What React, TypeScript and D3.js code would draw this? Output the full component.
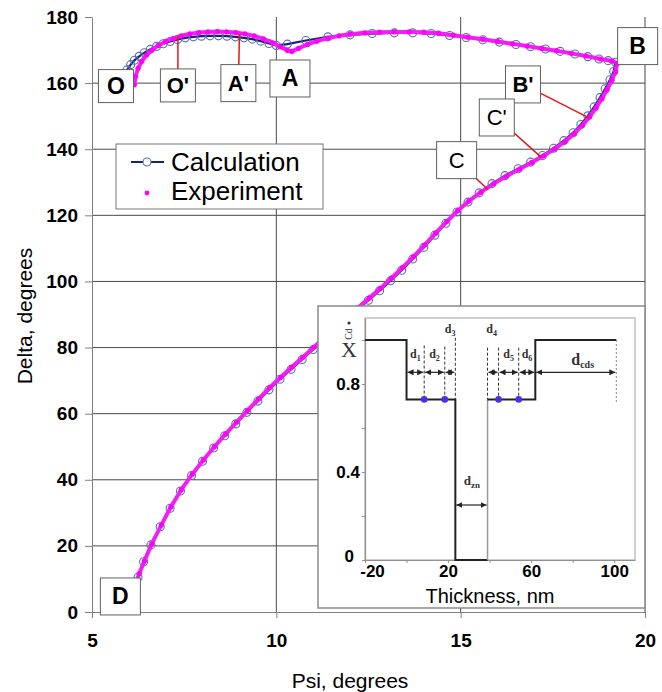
import React, { useEffect, useRef } from 'react'
import * as d3 from 'd3'

// [Psi, Delta] in degrees, from O over B down to D
const calculation: [number, number][] = [
  [5.95, 164.0], [6.05, 165.6], [6.15, 166.9], [6.28, 168.1], [6.42, 169.2], [6.58, 170.2],
  [6.75, 171.1], [6.93, 171.9], [7.12, 172.6], [7.32, 173.2], [7.53, 173.7], [7.75, 174.0],
  [7.97, 174.2], [8.2, 174.3], [8.43, 174.3], [8.66, 174.2], [8.89, 174.0], [9.12, 173.7],
  [9.35, 173.3], [9.58, 172.7], [9.8, 172.0], [10.0, 171.4], [10.3, 171.8], [10.8, 172.9],
  [11.4, 174.0], [12.0, 174.6], [12.6, 175.0], [13.2, 175.2], [13.7, 175.2], [14.2, 175.0],
  [14.7, 174.4], [15.15, 173.8], [15.6, 173.1], [16.05, 172.4], [16.5, 171.7], [16.9, 171.0],
  [17.3, 170.3], [17.7, 169.6], [18.1, 168.8], [18.45, 168.0], [18.75, 167.3], [19.0, 166.8],
  [19.2, 166.3], [19.15, 163.5], [19.05, 161.0], [18.92, 158.3], [18.78, 155.6], [18.62, 152.8],
  [18.45, 150.1], [18.26, 147.5], [18.05, 145.0], [17.8, 142.6], [17.52, 140.3], [17.22, 138.1],
  [16.9, 136.1], [16.56, 134.1], [16.2, 132.0], [15.85, 129.6], [15.5, 126.8], [15.2, 124.0],
  [14.9, 121.0], [14.6, 117.6], [14.3, 114.0], [14.0, 110.3], [13.7, 106.8], [13.4, 103.4],
  [13.1, 100.2], [12.8, 97.2], [12.5, 94.3], [12.2, 91.4], [11.9, 88.5], [11.6, 85.5],
  [11.3, 82.5], [11.0, 79.4], [10.7, 76.4], [10.4, 73.4], [10.1, 70.4], [9.8, 67.2],
  [9.5, 63.8], [9.2, 60.4], [8.9, 56.9], [8.6, 53.3], [8.3, 49.6], [8.0, 45.6],
  [7.7, 41.3], [7.4, 36.6], [7.12, 31.4], [6.85, 25.8], [6.6, 20.3], [6.4, 15.2], [6.25, 10.5]
]

const experiment: [number, number][] = [
  [6.15, 159.5], [6.18, 162], [6.25, 164.5], [6.35, 166.6], [6.48, 168.5], [6.62, 170],
  [6.8, 171.4], [7.0, 172.6], [7.2, 173.5], [7.42, 174.3], [7.65, 174.9], [7.9, 175.3],
  [8.15, 175.5], [8.4, 175.6], [8.65, 175.5], [8.9, 175.3], [9.15, 174.9], [9.4, 174.3],
  [9.65, 173.4], [9.9, 172.2], [10.1, 171.0], [10.3, 169.9], [10.42, 169.6], [10.6, 170.5],
  [10.85, 171.7], [11.1, 172.7], [11.4, 173.6], [11.7, 174.3], [12.0, 174.8], [12.4, 175.2],
  [12.8, 175.4], [13.2, 175.5], [13.6, 175.5], [14.0, 175.4], [14.4, 175.1], [14.8, 174.5],
  [15.2, 173.9], [15.6, 173.3], [16.0, 172.6], [16.4, 171.9], [16.8, 171.2], [17.2, 170.5],
  [17.6, 169.8], [18.0, 169.0], [18.4, 168.2], [18.8, 167.3], [19.1, 166.7], [19.25, 166.0],
  [19.2, 163.5], [19.1, 160.8], [18.97, 158], [18.83, 155.3], [18.67, 152.5], [18.5, 149.8],
  [18.3, 147.2], [18.08, 144.7], [17.83, 142.3], [17.55, 140.1], [17.25, 138], [16.93, 136],
  [16.6, 134], [16.25, 131.9], [15.9, 129.6], [15.55, 127], [15.22, 124.3], [14.92, 121.4],
  [14.62, 118.1], [14.32, 114.6], [14.02, 111], [13.72, 107.5], [13.42, 104.2], [13.12, 101],
  [12.82, 97.9], [12.52, 95], [12.22, 92.1], [11.92, 89.2], [11.62, 86.2], [11.32, 83.2],
  [11.02, 80.1], [10.72, 77.1], [10.42, 74.1], [10.12, 71], [9.82, 67.9], [9.52, 64.5],
  [9.22, 61], [8.92, 57.4], [8.62, 53.8], [8.32, 50], [8.02, 46], [7.72, 41.7],
  [7.42, 37], [7.14, 31.8], [6.88, 26.3], [6.62, 20.6], [6.42, 15.4], [6.28, 11.6], [6.2, 9]
]

const psiTicks = [5, 10, 15, 20]
const deltaTicks = [0, 20, 40, 60, 80, 100, 120, 140, 160, 180]

// point labels: name, where the box sits, and the curve point its leader goes to
const pointNames = ['O', "O'", "A'", 'A', 'B', "B'", "C'", 'C', 'D']
const boxAt: [number, number][] = [
  [5.65, 159.1], [7.33, 159.3], [8.97, 160.0], [10.37, 161.4], [19.8, 171.2],
  [16.69, 159.6], [15.98, 149.6], [14.89, 136.7], [5.77, 4.7]
]
const leaderTo: ([number, number] | null)[] = [
  null, [7.33, 174.3], [9.0, 174.9], null, null,
  [18.48, 149.5], [17.18, 137.6], [15.74, 127.8], null
]

// inset: composition profile X vs thickness (nm)
const profileNm = [-20, 0, 0, 23.5, 23.5, 39]
const profileX = [1, 1, 0.73, 0.73, 0, 0]
const profile2Nm = [39, 62, 62, 101]
const profile2X = [0.73, 0.73, 1, 1]
const boundaryNm = [8.5, 18.4, 23.5, 39, 44.3, 54]
const boundaryTop = [0.975, 0.97, 1.01, 0.965, 0.965, 0.965]
const dotNm = [8.5, 18.4, 44.3, 54]
const layerFrom = [0, 8.5, 18.4, 39, 44.3, 54, 62]
const layerTo = [8.5, 18.4, 23.5, 44.3, 54, 62, 101]
const layerNames = ['1', '2', '3', '4', '5', '6', 'cds']
const insetXTicks = [-20, 20, 60, 100]
const insetYTicks = [0, 0.4, 0.8]

const SANS = 'Liberation Sans, Arial, Helvetica, sans-serif'
const SERIF = 'Liberation Serif, Times New Roman, serif'

export default function App() {
  const svgRef = useRef<SVGSVGElement>(null)

  useEffect(() => {
    document.body.style.margin = '0'
    const svg = d3.select(svgRef.current)
    svg.selectAll('*').remove()

    const x = d3.scaleLinear().domain([5, 20]).range([92, 645])
    const y = d3.scaleLinear().domain([0, 180]).range([612, 17])

    const g = svg.append('g')

    // grid
    g.selectAll('.hgrid')
      .data(deltaTicks.filter(t => t > 0 && t < 180))
      .join('line')
      .attr('x1', x(5)).attr('x2', x(20))
      .attr('y1', d => y(d)).attr('y2', d => y(d))
      .attr('stroke', '#4a4a4a').attr('stroke-width', 1)
    g.selectAll('.vgrid')
      .data(psiTicks.filter(t => t > 5))
      .join('line')
      .attr('x1', d => x(d)).attr('x2', d => x(d))
      .attr('y1', y(180)).attr('y2', y(0))
      .attr('stroke', '#4a4a4a').attr('stroke-width', 1)

    // axes
    const yAxis = d3.axisLeft(y).tickValues(deltaTicks).tickSize(7).tickSizeOuter(0)
    const ya = g.append('g').attr('transform', `translate(${x(5)},0)`).call(yAxis)
    const xAxis = d3.axisBottom(x).tickValues(psiTicks).tickSize(6).tickSizeOuter(0)
    const xa = g.append('g').attr('transform', `translate(0,${y(0)})`).call(xAxis)
    ;[ya, xa].forEach(a => {
      a.select('.domain').attr('stroke', '#808080')
      a.selectAll('.tick line').attr('stroke', '#808080')
      a.selectAll('.tick text')
        .attr('font-family', SANS).attr('font-size', 19).attr('font-weight', 'bold').attr('fill', '#000')
    })
    ya.selectAll('.tick text').attr('x', -14)
    xa.selectAll('.tick text').attr('y', 22)

    g.append('text').attr('x', 350).attr('y', 688).attr('text-anchor', 'middle')
      .attr('font-family', SANS).attr('font-size', 21).text('Psi, degrees')
    g.append('text').attr('transform', 'translate(32,316) rotate(-90)').attr('text-anchor', 'middle')
      .attr('font-family', SANS).attr('font-size', 21).text('Delta, degrees')

    // series
    const ln = d3.line<[number, number]>().x(d => x(d[0])).y(d => y(d[1]))
    g.append('path').attr('d', ln(calculation)).attr('fill', 'none')
      .attr('stroke', '#1b1f78').attr('stroke-width', 2.2)
    g.selectAll('.calc')
      .data(calculation)
      .join('circle')
      .attr('cx', d => x(d[0])).attr('cy', d => y(d[1])).attr('r', 4)
      .attr('fill', 'none').attr('stroke', '#5570b0').attr('stroke-width', 1.1)
    g.append('path').attr('d', ln(experiment)).attr('fill', 'none')
      .attr('stroke', '#f020f0').attr('stroke-width', 4).attr('stroke-linejoin', 'round')
    g.selectAll('.exp')
      .data(experiment)
      .join('circle')
      .attr('cx', d => x(d[0])).attr('cy', d => y(d[1])).attr('r', 2.6)
      .attr('fill', '#ff00ff')

    // leaders and label boxes
    pointNames.forEach((name, i) => {
      const [bx, by] = boxAt[i]
      const to = leaderTo[i]
      if (to) {
        g.append('line').attr('x1', x(bx)).attr('y1', y(by)).attr('x2', x(to[0])).attr('y2', y(to[1]))
          .attr('stroke', '#e01818').attr('stroke-width', 1.5)
      }
    })
    pointNames.forEach((name, i) => {
      const [bx, by] = boxAt[i]
      const w = name === 'B' || name === 'A' || name === 'C' || name === 'D' ? 40 : 35
      const h = name === 'O' || name === "O'" ? 33 : 37
      g.append('rect').attr('x', x(bx) - w / 2).attr('y', y(by) - h / 2).attr('width', w).attr('height', h)
        .attr('fill', '#fff').attr('stroke', '#606060').attr('stroke-width', 1)
      g.append('text').attr('x', x(bx)).attr('y', y(by) + 8).attr('text-anchor', 'middle')
        .attr('font-family', SANS).attr('font-size', name.length > 1 || name === 'C' ? 22 : 23)
        .attr('font-weight', name === 'C' || name === "C'" ? 'normal' : 'bold').text(name)
    })

    // legend
    const lg = g.append('g')
    lg.append('rect').attr('x', 116).attr('y', 144).attr('width', 207).attr('height', 65)
      .attr('fill', '#fff').attr('stroke', '#777').attr('stroke-width', 1)
    lg.append('line').attr('x1', 131).attr('x2', 164).attr('y1', 162).attr('y2', 162)
      .attr('stroke', '#1b1f78').attr('stroke-width', 2.2)
    lg.append('circle').attr('cx', 147).attr('cy', 162).attr('r', 4)
      .attr('fill', '#fff').attr('stroke', '#5570b0').attr('stroke-width', 1.1)
    lg.append('circle').attr('cx', 147).attr('cy', 193).attr('r', 2.4).attr('fill', '#ff00ff')
    lg.append('text').attr('x', 171).attr('y', 171).attr('font-family', SANS).attr('font-size', 26).text('Calculation')
    lg.append('text').attr('x', 171).attr('y', 200).attr('font-family', SANS).attr('font-size', 26).text('Experiment')

    // inset
    const ins = svg.append('g')
    ins.append('rect').attr('x', 318).attr('y', 306).attr('width', 327).attr('height', 302)
      .attr('fill', '#fff').attr('stroke', '#8a8a8a').attr('stroke-width', 1.5)
    const ix = d3.scaleLinear().domain([-20, 110]).range([365, 635])
    const iy = d3.scaleLinear().domain([0, 1.1]).range([560, 318])
    ins.append('rect').attr('x', ix(-20)).attr('y', iy(1.1)).attr('width', ix(110) - ix(-20)).attr('height', iy(0) - iy(1.1))
      .attr('fill', 'none').attr('stroke', '#b0b0b0').attr('stroke-width', 1.2)

    const iya = ins.append('g').attr('transform', `translate(${ix(-20)},0)`)
      .call(d3.axisLeft(iy).tickValues([0, 0.2, 0.4, 0.6, 0.8, 1.0]).tickSize(3).tickSizeOuter(0)
        .tickFormat(d => (insetYTicks.includes(+d) ? (+d === 0 ? '0' : String(d)) : '')))
    const ixa = ins.append('g').attr('transform', `translate(0,${iy(0)})`)
      .call(d3.axisBottom(ix).tickValues([-20, 0, 20, 40, 60, 80, 100]).tickSize(3).tickSizeOuter(0)
        .tickFormat(d => (insetXTicks.includes(+d) ? String(d) : '')))
    ;[iya, ixa].forEach(a => {
      a.select('.domain').attr('stroke', '#909090').attr('stroke-width', 1.2)
      a.selectAll('.tick line').attr('stroke', '#909090')
      a.selectAll('.tick text').attr('font-family', SANS).attr('font-size', 17)
        .attr('font-weight', 'bold').attr('fill', '#000')
    })
    iya.selectAll('.tick text').attr('x', -5)
    iya.selectAll('.tick text').filter(d => +d === 0).attr('x', -11).attr('dy', '0.1em')
    ixa.selectAll('.tick text').attr('y', 5)
    ixa.selectAll('.tick text').filter(d => +d === -20).attr('dx', 7)
    ins.append('text').attr('x', 490).attr('y', 603).attr('text-anchor', 'middle')
      .attr('font-family', SANS).attr('font-size', 20).text('Thickness, nm')
    ins.append('text').attr('x', 349).attr('y', 357).attr('text-anchor', 'middle')
      .attr('font-family', SERIF).attr('font-size', 22).attr('fill', '#333').text('X')
    ins.append('text').attr('transform', 'translate(352,334) rotate(-90)').attr('text-anchor', 'middle')
      .attr('font-family', SERIF).attr('font-size', 10).attr('fill', '#333').text('Cd')
    ins.append('circle').attr('cx', 349).attr('cy', 323).attr('r', 1.6).attr('fill', '#333')

    // profile
    const p1 = profileNm.map((n, i) => [ix(n), iy(profileX[i])] as [number, number])
    const p2 = profile2Nm.map((n, i) => [ix(n), iy(profile2X[i])] as [number, number])
    ins.append('path').attr('d', d3.line()(p1)).attr('fill', 'none').attr('stroke', '#222').attr('stroke-width', 2)
    ins.append('line').attr('x1', ix(39)).attr('x2', ix(39)).attr('y1', iy(0)).attr('y2', iy(0.73))
      .attr('stroke', '#999').attr('stroke-width', 1.5)
    ins.append('path').attr('d', d3.line()(p2)).attr('fill', 'none').attr('stroke', '#222').attr('stroke-width', 2)

    // layer boundaries
    boundaryNm.forEach((n, i) => {
      ins.append('line').attr('x1', ix(n)).attr('x2', ix(n)).attr('y1', iy(boundaryTop[i])).attr('y2', iy(0.73))
        .attr('stroke', '#333').attr('stroke-width', 1).attr('stroke-dasharray', '3,2')
    })
    ins.append('line').attr('x1', ix(101)).attr('x2', ix(101)).attr('y1', iy(1)).attr('y2', iy(0.71))
      .attr('stroke', '#888').attr('stroke-width', 1).attr('stroke-dasharray', '2,2')

    const defs = svg.append('defs')
    defs.append('marker').attr('id', 'ah').attr('viewBox', '0 0 10 10').attr('refX', 10).attr('refY', 5)
      .attr('markerWidth', 6).attr('markerHeight', 6).attr('markerUnits', 'userSpaceOnUse').attr('orient', 'auto-start-reverse')
      .append('path').attr('d', 'M0,0 L10,5 L0,10 z').attr('fill', '#222')

    layerFrom.forEach((f, i) => {
      ins.append('line').attr('x1', ix(f) + 1).attr('x2', ix(layerTo[i]) - 1).attr('y1', iy(0.853)).attr('y2', iy(0.853))
        .attr('stroke', '#222').attr('stroke-width', 1.2)
        .attr('marker-start', 'url(#ah)').attr('marker-end', 'url(#ah)')
      const big = layerNames[i] === 'cds'
      const lx = big ? 84.8 : (f + layerTo[i]) / 2
      const ly = i === 2 || i === 3 ? 1.03 : big ? 0.885 : 0.92
      const t = ins.append('text').attr('x', ix(i === 2 ? 21 : i === 3 ? 41 : lx)).attr('y', iy(ly))
        .attr('text-anchor', 'middle').attr('font-family', SERIF).attr('font-weight', 'bold')
        .attr('font-size', big ? 16 : 12).attr('fill', '#333').text('d')
      t.append('tspan').attr('dy', 3).attr('font-size', big ? 10 : 8).text(layerNames[i])
    })
    ins.append('line').attr('x1', ix(23.5) + 1).attr('x2', ix(39) - 1).attr('y1', iy(0.25)).attr('y2', iy(0.25))
      .attr('stroke', '#222').attr('stroke-width', 1.2)
      .attr('marker-start', 'url(#ah)').attr('marker-end', 'url(#ah)')
    const zt = ins.append('text').attr('x', ix(31.5)).attr('y', iy(0.34)).attr('text-anchor', 'middle')
      .attr('font-family', SERIF).attr('font-weight', 'bold').attr('font-size', 13).attr('fill', '#333').text('d')
    zt.append('tspan').attr('dy', 3).attr('font-size', 9).text('zn')

    ins.selectAll('.bdot')
      .data(dotNm)
      .join('circle')
      .attr('cx', d => ix(d)).attr('cy', iy(0.73)).attr('r', 3.3).attr('fill', '#4a2ee8')
  }, [])

  return (
    <svg ref={svgRef} width={662} height={692} style={{ display: 'block', background: '#fff' }} />
  )
}
